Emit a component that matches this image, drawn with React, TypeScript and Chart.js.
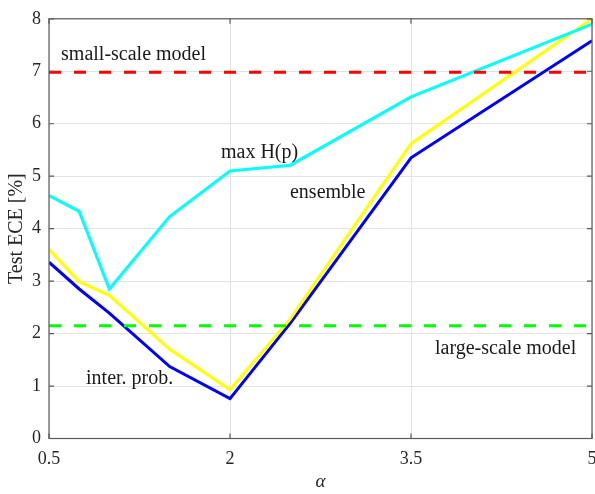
import React, { useEffect, useRef } from "react";
import { Chart, registerables } from "chart.js";

Chart.register(...registerables);

const alpha = [0.5, 0.75, 1, 1.5, 2, 2.5, 3.5, 5];
const maxH = [4.63, 4.33, 2.85, 4.23, 5.1, 5.21, 6.51, 7.9];
const ensemble = [3.6, 2.99, 2.73, 1.7, 0.93, 2.28, 5.62, 8.0];
const interProb = [3.36, 2.85, 2.39, 1.37, 0.76, 2.2, 5.35, 7.58];
const smallScaleECE = 6.98;
const largeScaleECE = 2.15;
const xRange = [0.5, 5];
const xTicks = [0.5, 2, 3.5, 5];
const yTicks = [0, 1, 2, 3, 4, 5, 6, 7, 8];

const labelTexts = ["small-scale model", "max H(p)", "ensemble", "inter. prob.", "large-scale model"];
const labelX = [0.6, 1.925, 2.497, 0.807, 3.699];
const labelY = [7.22, 5.355, 4.59, 1.043, 1.617];

const FONT = "'Liberation Serif', 'Times New Roman', serif";

const boxPlugin = {
  id: "boxPlugin",
  afterDatasetsDraw(chart: any) {
    const { ctx, chartArea: a, scales } = chart;
    const xs = scales.x;
    const ys = scales.y;
    ctx.save();
    // annotations
    ctx.font = `20px ${FONT}`;
    ctx.fillStyle = "#1a1a1a";
    ctx.textAlign = "left";
    ctx.textBaseline = "alphabetic";
    labelTexts.forEach((t, i) => {
      ctx.fillText(t, xs.getPixelForValue(labelX[i]), ys.getPixelForValue(labelY[i]));
    });
    // box
    ctx.strokeStyle = "#5a5a5a";
    ctx.lineWidth = 1.2;
    ctx.strokeRect(a.left, a.top, a.right - a.left, a.bottom - a.top);
    // inward ticks
    ctx.beginPath();
    xTicks.forEach((v) => {
      const px = xs.getPixelForValue(v);
      ctx.moveTo(px, a.bottom);
      ctx.lineTo(px, a.bottom - 5);
      ctx.moveTo(px, a.top);
      ctx.lineTo(px, a.top + 5);
    });
    yTicks.forEach((v) => {
      const py = ys.getPixelForValue(v);
      ctx.moveTo(a.left, py);
      ctx.lineTo(a.left + 5, py);
      ctx.moveTo(a.right, py);
      ctx.lineTo(a.right - 5, py);
    });
    ctx.stroke();
    ctx.restore();
  },
};

export default function App() {
  const ref = useRef<HTMLCanvasElement | null>(null);
  useEffect(() => {
    if (!ref.current) return;
    const mk = (ys: number[]) => alpha.map((x, i) => ({ x, y: ys[i] }));
    const flat = (v: number) => xRange.map((x) => ({ x, y: v }));
    const chart = new Chart(ref.current, {
      type: "line",
      data: {
        datasets: [
          { label: "small-scale model", data: flat(smallScaleECE), borderColor: "#ff0000", borderWidth: 3, borderDash: [12, 13], pointRadius: 0 },
          { label: "large-scale model", data: flat(largeScaleECE), borderColor: "#00ff00", borderWidth: 3, borderDash: [12, 13], pointRadius: 0 },
          { label: "max H(p)", data: mk(maxH), borderColor: "#00ffff", borderWidth: 3, pointRadius: 0 },
          { label: "ensemble", data: mk(ensemble), borderColor: "#ffff00", borderWidth: 3, pointRadius: 0 },
          { label: "inter. prob.", data: mk(interProb), borderColor: "#0000ff", borderWidth: 3, pointRadius: 0 },
        ],
      },
      options: {
        animation: false,
        responsive: false,
        layout: { padding: { top: 10.5, right: 3, left: 0, bottom: 0 } },
        plugins: { legend: { display: false }, tooltip: { enabled: false } },
        scales: {
          x: {
            type: "linear",
            min: xRange[0],
            max: xRange[1],
            afterBuildTicks: (s: any) => {
              s.ticks = xTicks.map((v) => ({ value: v }));
            },
            afterFit: (s: any) => {
              s.height = 55.5;
              s.paddingLeft = 0;
              s.paddingRight = 0;
            },
            grid: { color: "#e3e3e3", lineWidth: 1, drawTicks: false },
            border: { display: false },
            ticks: {
              autoSkip: false,
              maxRotation: 0,
              padding: 10,
              color: "#262626",
              font: { family: FONT, size: 18 },
            },
            title: {
              display: true,
              text: "α",
              color: "#262626",
              font: { family: FONT, size: 19, style: "italic" },
              padding: { top: 0, bottom: 1 },
            },
          },
          y: {
            type: "linear",
            min: 0,
            max: 8,
            afterBuildTicks: (s: any) => {
              s.ticks = yTicks.map((v) => ({ value: v }));
            },
            afterFit: (s: any) => {
              s.width = 49;
            },
            grid: { color: "#e3e3e3", lineWidth: 1, drawTicks: false },
            border: { display: false },
            ticks: {
              padding: 8,
              color: "#262626",
              font: { family: FONT, size: 18 },
            },
            title: {
              display: true,
              text: "Test ECE [%]",
              color: "#262626",
              font: { family: FONT, size: 20 },
              padding: { top: 5, bottom: 0 },
            },
          },
        },
      },
      plugins: [boxPlugin],
    } as any);
    return () => chart.destroy();
  }, []);
  return (
    <div style={{ position: "fixed", left: 0, top: 0, width: 595, height: 494, background: "#fff" }}>
      <canvas ref={ref} width={595} height={494} style={{ display: "block" }} />
    </div>
  );
}
